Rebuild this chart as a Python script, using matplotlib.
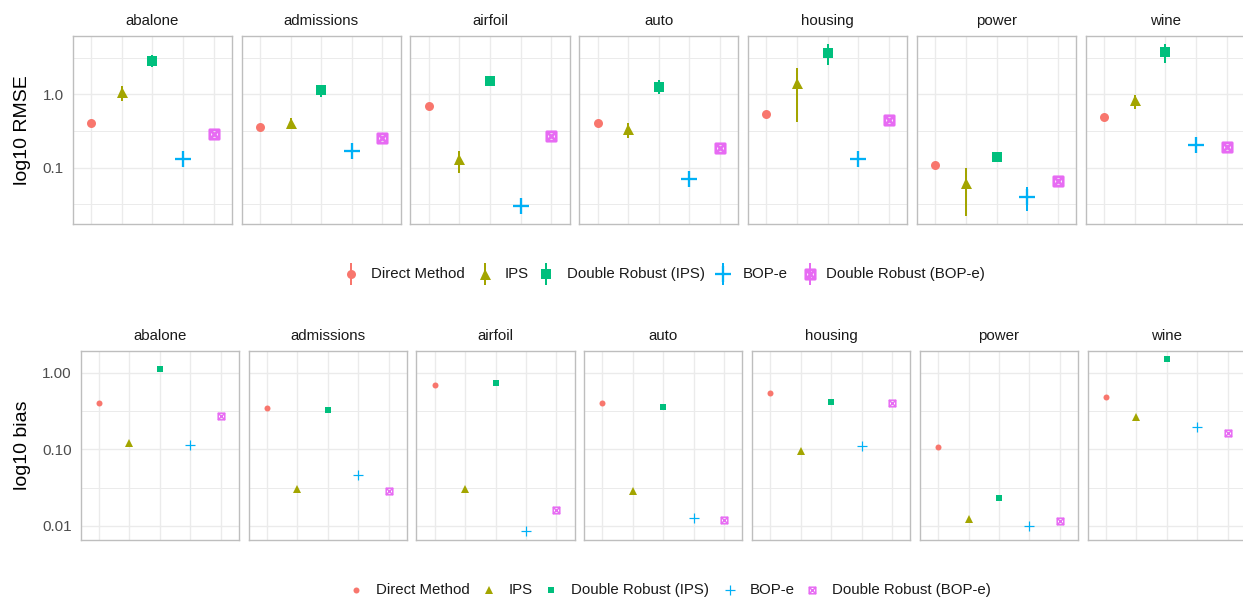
import matplotlib
matplotlib.use("Agg")
import matplotlib.pyplot as plt
from matplotlib.path import Path
import numpy as np

plt.rcParams['font.family'] = ['Liberation Sans', 'DejaVu Sans']

# ---------------------------------------------------------------- data
datasets = ["abalone", "admissions", "airfoil", "auto", "housing", "power", "wine"]
methods = ["Direct Method", "IPS", "Double Robust (IPS)", "BOP-e", "Double Robust (BOP-e)"]
colors = ["#F8766D", "#A3A500", "#00BF7D", "#00B0F6", "#E76BF3"]

# RMSE: point estimate with lower / upper interval per dataset
rmse_dm = [0.41, 0.358, 0.69, 0.41, 0.543, 0.110, 0.49]
rmse_dm_lo = [0.39, 0.34, 0.66, 0.39, 0.52, 0.105, 0.47]
rmse_dm_hi = [0.43, 0.375, 0.72, 0.43, 0.565, 0.115, 0.51]

rmse_ips = [1.06, 0.41, 0.132, 0.336, 1.44, 0.0616, 0.84]
rmse_ips_lo = [0.82, 0.34, 0.085, 0.25, 0.42, 0.0219, 0.63]
rmse_ips_hi = [1.30, 0.47, 0.17, 0.40, 2.31, 0.098, 0.98]

rmse_dr_ips = [2.85, 1.14, 1.52, 1.27, 3.70, 0.141, 3.81]
rmse_dr_ips_lo = [2.38, 0.93, 1.30, 1.01, 2.53, 0.118, 2.70]
rmse_dr_ips_hi = [3.40, 1.34, 1.62, 1.57, 4.85, 0.155, 4.80]

rmse_bop = [0.130, 0.170, 0.030, 0.0706, 0.130, 0.0397, 0.205]
rmse_bop_lo = [0.118, 0.152, 0.027, 0.064, 0.118, 0.026, 0.185]
rmse_bop_hi = [0.143, 0.188, 0.033, 0.078, 0.143, 0.054, 0.226]

rmse_dr_bop = [0.285, 0.256, 0.267, 0.183, 0.446, 0.0656, 0.193]
rmse_dr_bop_lo = [0.27, 0.245, 0.255, 0.175, 0.425, 0.062, 0.184]
rmse_dr_bop_hi = [0.30, 0.268, 0.28, 0.192, 0.465, 0.069, 0.202]

# bias per dataset
bias_dm = [0.405, 0.346, 0.69, 0.398, 0.542, 0.108, 0.48]
bias_ips = [0.12, 0.0303, 0.0303, 0.0288, 0.095, 0.0123, 0.261]
bias_dr_ips = [1.10, 0.322, 0.726, 0.353, 0.41, 0.023, 1.49]
bias_bop = [0.114, 0.0458, 0.0085, 0.0127, 0.11, 0.0101, 0.197]
bias_dr_bop = [0.274, 0.0288, 0.016, 0.012, 0.405, 0.0117, 0.165]

rmse_est = [rmse_dm, rmse_ips, rmse_dr_ips, rmse_bop, rmse_dr_bop]
rmse_lo = [rmse_dm_lo, rmse_ips_lo, rmse_dr_ips_lo, rmse_bop_lo, rmse_dr_bop_lo]
rmse_hi = [rmse_dm_hi, rmse_ips_hi, rmse_dr_ips_hi, rmse_bop_hi, rmse_dr_bop_hi]
bias_est = [bias_dm, bias_ips, bias_dr_ips, bias_bop, bias_dr_bop]

rmse_ticks = [0.1, 1.0]
rmse_ticklabels = ["0.1", "1.0"]
bias_ticks = [0.01, 0.1, 1.0]
bias_ticklabels = ["0.01", "0.10", "1.00"]

# ---------------------------------------------------------------- styling
W, H = 1243, 602
fig = plt.figure(figsize=(W / 100, H / 100), dpi=100)
PX = 72 / 100  # points per pixel

# square with an X inside
sq_cross = Path(
    [(-1, -1), (1, -1), (1, 1), (-1, 1), (-1, -1), (-1, -1), (1, 1), (-1, 1), (1, -1)],
    [Path.MOVETO, Path.LINETO, Path.LINETO, Path.LINETO, Path.CLOSEPOLY,
     Path.MOVETO, Path.LINETO, Path.MOVETO, Path.LINETO])

big_marks = [
    dict(marker='o', ms=9 * PX, mew=0),
    dict(marker='^', ms=11 * PX, mew=0),
    dict(marker='s', ms=9.3 * PX, mew=0),
    dict(marker='+', ms=15.5 * PX, mew=2.3 * PX),
    dict(marker=sq_cross, ms=9.4 * PX, mew=2.7 * PX, mfc='none'),
]
small_marks = [
    dict(marker='o', ms=6 * PX, mew=0),
    dict(marker='^', ms=8 * PX, mew=0),
    dict(marker='s', ms=6.3 * PX, mew=0),
    dict(marker='+', ms=10 * PX, mew=1.2 * PX),
    dict(marker=sq_cross, ms=6.6 * PX, mew=1.5 * PX, mfc='none'),
]

GRID = "#EBEBEB"
BORDER = "#BEBEBE"
TICK_COLOR = "#4D4D4D"
TEXT_COLOR = "#1A1A1A"


def px_axes(left, top, width, height):
    return fig.add_axes([left / W, 1 - (top + height) / H, width / W, height / H])


def style_panel(ax, name, ylim, ticks, ticklabels, minor, first):
    ax.set_yscale('log')
    ax.set_xlim(0.4, 5.6)
    ax.set_ylim(*ylim)
    ax.set_xticks(np.arange(1, 6))
    ax.set_xticklabels([])
    ax.set_yticks(ticks)
    ax.set_yticks(minor, minor=True)
    ax.yaxis.set_minor_formatter(plt.NullFormatter())
    if first:
        ax.set_yticklabels(ticklabels)
    else:
        ax.set_yticklabels([])
    ax.tick_params(which='both', length=0, pad=6.5, labelsize=11, labelcolor=TICK_COLOR)
    ax.grid(which='major', axis='both', color=GRID, lw=1.0)
    ax.grid(which='minor', axis='y', color=GRID, lw=0.7)
    ax.set_axisbelow(True)
    for sp in ax.spines.values():
        sp.set_color(BORDER)
        sp.set_linewidth(1.0)
    ax.annotate(name, xy=(0.5, 1), xycoords='axes fraction', xytext=(0, 11),
                textcoords='offset points', ha='center', va='center',
                fontsize=10.8, color=TEXT_COLOR)


xpos = np.arange(1, len(methods) + 1)

# ---------------------------------------------------------------- RMSE panels
top_left, top_step, top_w, top_y, top_h = 72.7, 168.83, 159.3, 36, 188
rmse_lim = (10 ** -1.769, 10 ** 0.795)
for d, name in enumerate(datasets):
    ax = px_axes(top_left + d * top_step, top_y, top_w, top_h)
    style_panel(ax, name, rmse_lim, rmse_ticks, rmse_ticklabels,
                [10 ** -1.5, 10 ** -0.5, 10 ** 0.5], d == 0)
    for m in range(len(methods)):
        ax.vlines(xpos[m], rmse_lo[m][d], rmse_hi[m][d], color=colors[m], lw=2 * PX, zorder=3)
        st = big_marks[m]
        ax.plot(xpos[m], rmse_est[m][d], linestyle='none', marker=st['marker'],
                ms=st['ms'], mew=st['mew'], color=colors[m],
                mfc=st.get('mfc', colors[m]), zorder=4)
    if d == 0:
        ax.set_ylabel("log10 RMSE", fontsize=14, color='black', labelpad=8)

# ---------------------------------------------------------------- bias panels
bot_left, bot_step, bot_w, bot_y, bot_h = 80.7, 167.83, 158.3, 351, 188.7
bias_lim = (10 ** -2.179, 10 ** 0.282)
for d, name in enumerate(datasets):
    ax = px_axes(bot_left + d * bot_step, bot_y, bot_w, bot_h)
    style_panel(ax, name, bias_lim, bias_ticks, bias_ticklabels,
                [10 ** -1.5, 10 ** -0.5], d == 0)
    for m in range(len(methods)):
        st = small_marks[m]
        ax.plot(xpos[m], bias_est[m][d], linestyle='none', marker=st['marker'],
                ms=st['ms'], mew=st['mew'], color=colors[m],
                mfc=st.get('mfc', colors[m]), zorder=4)
    if d == 0:
        ax.set_ylabel("log10 bias", fontsize=14, color='black', labelpad=8)

# ---------------------------------------------------------------- legends
leg = fig.add_axes([0, 0, 1, 1])
leg.set_xlim(0, W)
leg.set_ylim(H, 0)
leg.axis('off')

top_mark_x = [351, 485, 546, 723, 810]
top_text_x = [371, 505, 567, 743, 826]
top_leg_y = 274
for m, label in enumerate(methods):
    leg.vlines(top_mark_x[m], top_leg_y - 11, top_leg_y + 11, color=colors[m], lw=2 * PX)
    st = big_marks[m]
    leg.plot(top_mark_x[m], top_leg_y, linestyle='none', marker=st['marker'], ms=st['ms'],
             mew=st['mew'], color=colors[m], mfc=st.get('mfc', colors[m]))
    leg.text(top_text_x[m], top_leg_y, label, ha='left', va='center',
             fontsize=10.8, color=TEXT_COLOR)

bot_mark_x = [356, 489, 551, 730, 812]
bot_text_x = [376, 509, 571, 750, 832]
bot_leg_y = 590
for m, label in enumerate(methods):
    st = small_marks[m]
    leg.plot(bot_mark_x[m], bot_leg_y, linestyle='none', marker=st['marker'], ms=st['ms'],
             mew=st['mew'], color=colors[m], mfc=st.get('mfc', colors[m]))
    leg.text(bot_text_x[m], bot_leg_y, label, ha='left', va='center',
             fontsize=10.8, color=TEXT_COLOR)

fig.savefig("out.png", dpi=100)
